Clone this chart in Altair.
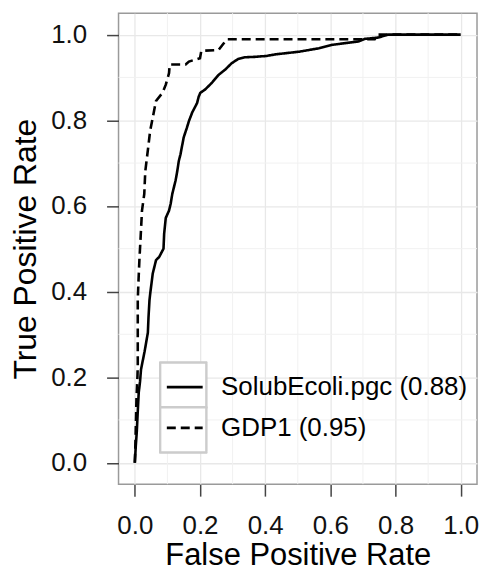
import altair as alt
import pandas as pd

# ---- data ----
series_names = ["SolubEcoli.pgc (0.88)", "GDP1 (0.95)"]

solub_fpr = [0.0, 0.003, 0.006, 0.009, 0.012, 0.016, 0.019, 0.03, 0.04, 0.042, 0.045, 0.048,
             0.055, 0.065, 0.075, 0.088, 0.09, 0.095, 0.105, 0.11, 0.115, 0.125, 0.13, 0.135,
             0.14, 0.15, 0.16, 0.166, 0.176, 0.191, 0.196, 0.201, 0.216, 0.236, 0.257, 0.277,
             0.297, 0.317, 0.337, 0.368, 0.403, 0.433, 0.504, 0.565, 0.605, 0.686, 0.706,
             0.747, 0.777, 1.0]
solub_tpr = [0.0, 0.04, 0.072, 0.12, 0.164, 0.19, 0.218, 0.26, 0.304, 0.34, 0.38, 0.40,
             0.442, 0.473, 0.481, 0.50, 0.535, 0.572, 0.589, 0.605, 0.628, 0.659, 0.68, 0.705,
             0.72, 0.76, 0.783, 0.798, 0.818, 0.84, 0.855, 0.864, 0.872, 0.887, 0.906, 0.918,
             0.933, 0.943, 0.947, 0.948, 0.950, 0.954, 0.960, 0.968, 0.976, 0.984, 0.990,
             0.993, 1.0, 1.0]

gdp_fpr = [0.0, 0.002, 0.005, 0.008, 0.009, 0.009, 0.011, 0.014, 0.018, 0.022, 0.029, 0.032,
           0.04, 0.047, 0.055, 0.065, 0.085, 0.095, 0.105, 0.107, 0.156, 0.166, 0.2, 0.204,
           0.257, 0.277, 0.282, 0.736, 0.745, 1.0]
gdp_tpr = [0.0, 0.05, 0.148, 0.2, 0.226, 0.38, 0.42, 0.473, 0.53, 0.589, 0.628, 0.68,
           0.73, 0.775, 0.806, 0.845, 0.864, 0.883, 0.91, 0.93, 0.93, 0.937, 0.945, 0.962,
           0.964, 0.984, 0.989, 0.989, 1.0, 1.0]

major_ticks = [0.0, 0.2, 0.4, 0.6, 0.8, 1.0]
minor_ticks = [0.1, 0.3, 0.5, 0.7, 0.9]

rows = []
for i, (x, y) in enumerate(zip(solub_fpr, solub_tpr)):
    rows.append({"fpr": x, "tpr": y, "series": series_names[0], "idx": i})
for i, (x, y) in enumerate(zip(gdp_fpr, gdp_tpr)):
    rows.append({"fpr": x, "tpr": y, "series": series_names[1], "idx": i})
df = pd.DataFrame(rows)
minor_df = pd.DataFrame({"v": minor_ticks})

FONT = "Liberation Sans"
dom = [-0.05, 1.05]
xscale = alt.Scale(domain=dom, nice=False, zero=False)
yscale = alt.Scale(domain=dom, nice=False, zero=False)

axis_common = dict(values=major_ticks, format=".1f", labelFontSize=26, labelColor="#111111",
                   labelFont=FONT, titleFont=FONT, titleFontWeight="normal",
                   titleColor="#000000", tickColor="#444444", tickWidth=1.5, tickSize=12,
                   domain=False, grid=True, gridColor="#e8e8e8", gridWidth=1.3)

minor_x = alt.Chart(minor_df).mark_rule(color="#f1f1f1", strokeWidth=1).encode(
    x=alt.X("v:Q", scale=xscale))
minor_y = alt.Chart(minor_df).mark_rule(color="#f1f1f1", strokeWidth=1).encode(
    y=alt.Y("v:Q", scale=yscale))

lines = alt.Chart(df).mark_line(color="black", strokeWidth=2.6, clip=True).encode(
    x=alt.X("fpr:Q", scale=xscale, title="False Positive Rate",
            axis=alt.Axis(titlePadding=2, titleFontSize=31, labelPadding=17, **axis_common)),
    y=alt.Y("tpr:Q", scale=yscale, title="True Positive Rate",
            axis=alt.Axis(titlePadding=8, titleFontSize=32, labelPadding=20, **axis_common)),
    strokeDash=alt.StrokeDash(
        "series:N",
        scale=alt.Scale(domain=series_names, range=[[1, 0], [9, 5]]),
        title=None,
        legend=alt.Legend(orient="none", legendX=47, legendY=356, symbolType="stroke",
                          symbolSize=1296, symbolStrokeWidth=2.6, symbolStrokeColor="black",
                          labelFontSize=26, labelFont=FONT, labelColor="#000000",
                          labelLimit=400, labelOffset=17, rowPadding=8, padding=0),
    ),
    order="idx:Q",
)

box1 = alt.Chart(minor_df).mark_rect(fill="white", stroke="#cccccc", strokeWidth=2).encode(
    x=alt.value(42), x2=alt.value(88), y=alt.value(351), y2=alt.value(396))
box2 = alt.Chart(minor_df).mark_rect(fill="white", stroke="#cccccc", strokeWidth=2).encode(
    x=alt.value(42), x2=alt.value(88), y=alt.value(396), y2=alt.value(441))

chart = alt.layer(minor_x, minor_y, lines, box1, box2).properties(
    width=360, height=473,
    autosize=alt.AutoSizeParams(type="none"),
    padding={"left": 111, "top": 4, "right": 3, "bottom": 88},
).configure_view(stroke="#9a9a9a", strokeWidth=1.5)

chart.save("out.html", embed_options={"renderer": "svg", "actions": False})
